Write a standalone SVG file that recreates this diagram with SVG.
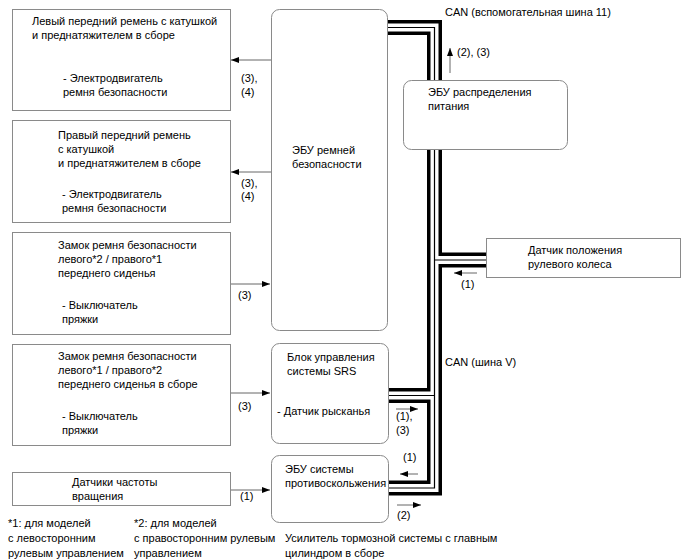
<svg xmlns="http://www.w3.org/2000/svg" width="688" height="560" viewBox="0 0 688 560">
<style>
text{font-family:"Liberation Sans",Arial,sans-serif;font-size:11px;fill:#000}
.box{fill:#fff;stroke:#8a8a8a;stroke-width:1}
.conn{fill:none;stroke:#666;stroke-width:1}
.busb{fill:none;stroke:#000;stroke-width:15;stroke-linejoin:miter}
.busw{fill:none;stroke:#fff;stroke-width:8;stroke-linejoin:miter}
.bust{fill:none;stroke:#000;stroke-width:1.2;stroke-linejoin:miter}
</style>
<defs>
<marker id="ah" viewBox="0 0 8 6" refX="8" refY="3" markerWidth="8" markerHeight="6" orient="auto" markerUnits="userSpaceOnUse">
<path d="M0,0 L8,3 L0,6 z" fill="#000"/>
</marker>
</defs>
<rect width="688" height="560" fill="#fff"/>

<g id="connectors">
<path class="busb" d="M388,27.5 H434.5 V488 H388"/>
<path class="busb" d="M434.5,260 H486"/>
<path class="busb" d="M389,395.5 H434.5"/>
<path class="busw" d="M388,27.5 H434.5 V488 H388"/>
<path class="busw" d="M434.5,260 H486"/>
<path class="busw" d="M389,395.5 H434.5"/>
<path class="bust" d="M388,27.5 H434.5 V488 H388"/>
<path class="bust" d="M434.5,260 H486"/>
<path class="bust" d="M389,395.5 H434.5"/>

<line class="conn" x1="271" y1="60" x2="231" y2="60" marker-end="url(#ah)"/>
<line class="conn" x1="271" y1="172" x2="231" y2="172" marker-end="url(#ah)"/>
<line class="conn" x1="230" y1="284" x2="270" y2="284" marker-end="url(#ah)"/>
<line class="conn" x1="230" y1="393" x2="270" y2="393" marker-end="url(#ah)"/>
<line class="conn" x1="230" y1="490" x2="270" y2="490" marker-end="url(#ah)"/>

<line class="conn" x1="450" y1="73" x2="450" y2="48" marker-end="url(#ah)"/>
<line class="conn" x1="477" y1="273" x2="454" y2="273" marker-end="url(#ah)"/>
<line class="conn" x1="396" y1="409" x2="418" y2="409" marker-end="url(#ah)"/>
<line class="conn" x1="418" y1="474" x2="400" y2="474" marker-end="url(#ah)"/>
<line class="conn" x1="397" y1="505" x2="421" y2="505" marker-end="url(#ah)"/>

<text x="241" y="82">(3),</text>
<text x="241" y="96">(4)</text>
<text x="241" y="187">(3),</text>
<text x="241" y="200">(4)</text>
<text x="238" y="299">(3)</text>
<text x="238" y="410">(3)</text>
<text x="240" y="500">(1)</text>
<text x="445" y="16">CAN (вспомогательная шина 11)</text>
<text x="457" y="56">(2), (3)</text>
<text x="461" y="288">(1)</text>
<text x="445" y="366">CAN (шина V)</text>
<text x="396" y="420">(1),</text>
<text x="396" y="434">(3)</text>
<text x="403" y="461">(1)</text>
<text x="397" y="519">(2)</text>
</g>

<g id="left-belt">
<rect class="box" x="12.5" y="9.5" width="218" height="101"/>
<text x="32" y="25">Левый передний ремень с катушкой</text>
<text x="32" y="39">и преднатяжителем в сборе</text>
<text x="63" y="82">- Электродвигатель</text>
<text x="63" y="96">ремня безопасности</text>
</g>

<g id="right-belt">
<rect class="box" x="12.5" y="120.5" width="218" height="102"/>
<text x="58" y="139">Правый передний ремень</text>
<text x="58" y="153">с катушкой</text>
<text x="58" y="167">и преднатяжителем в сборе</text>
<text x="62" y="198">- Электродвигатель</text>
<text x="62" y="212">ремня безопасности</text>
</g>

<g id="buckle-1">
<rect class="box" x="12.5" y="232.5" width="218" height="102"/>
<text x="58" y="249">Замок ремня безопасности</text>
<text x="58" y="263">левого*2 / правого*1</text>
<text x="58" y="277">переднего сиденья</text>
<text x="62" y="309">- Выключатель</text>
<text x="62" y="323">пряжки</text>
</g>

<g id="buckle-2">
<rect class="box" x="12.5" y="344.5" width="218" height="101"/>
<text x="58" y="360">Замок ремня безопасности</text>
<text x="58" y="374">левого*1 / правого*2</text>
<text x="58" y="388">переднего сиденья в сборе</text>
<text x="62" y="420">- Выключатель</text>
<text x="62" y="434">пряжки</text>
</g>

<g id="speed-sensors">
<rect class="box" x="12.5" y="472.5" width="218" height="33"/>
<text x="72" y="486">Датчики частоты</text>
<text x="72" y="500">вращения</text>
</g>

<g id="belt-ecu">
<rect class="box" x="271.5" y="9.5" width="116" height="321" rx="8"/>
<text x="292" y="154">ЭБУ ремней</text>
<text x="292" y="168">безопасности</text>
</g>

<g id="power-ecu">
<rect class="box" x="403.5" y="80.5" width="164" height="69" rx="8"/>
<text x="428" y="96">ЭБУ распределения</text>
<text x="428" y="110">питания</text>
</g>

<g id="steering-sensor">
<rect class="box" x="486.5" y="238.5" width="194" height="39"/>
<text x="528" y="254">Датчик положения</text>
<text x="528" y="268">рулевого колеса</text>
</g>

<g id="srs">
<rect class="box" x="271.5" y="343.5" width="117" height="100" rx="8"/>
<text x="287" y="361">Блок управления</text>
<text x="287" y="375">системы SRS</text>
<text x="277" y="415">- Датчик рысканья</text>
</g>

<g id="skid-ecu">
<rect class="box" x="271.5" y="455.5" width="117" height="67" rx="8"/>
<text x="285" y="473">ЭБУ системы</text>
<text x="285" y="487">противоскольжения</text>
</g>

<g id="notes">
<text x="285" y="542">Усилитель тормозной системы с главным</text>
<text x="285" y="557">цилиндром в сборе</text>
<text x="8" y="527">*1: для моделей</text>
<text x="8" y="542">с левосторонним</text>
<text x="8" y="557">рулевым управлением</text>
<text x="134" y="527">*2: для моделей</text>
<text x="134" y="542">с правосторонним рулевым</text>
<text x="134" y="557">управлением</text>
</g>
</svg>
